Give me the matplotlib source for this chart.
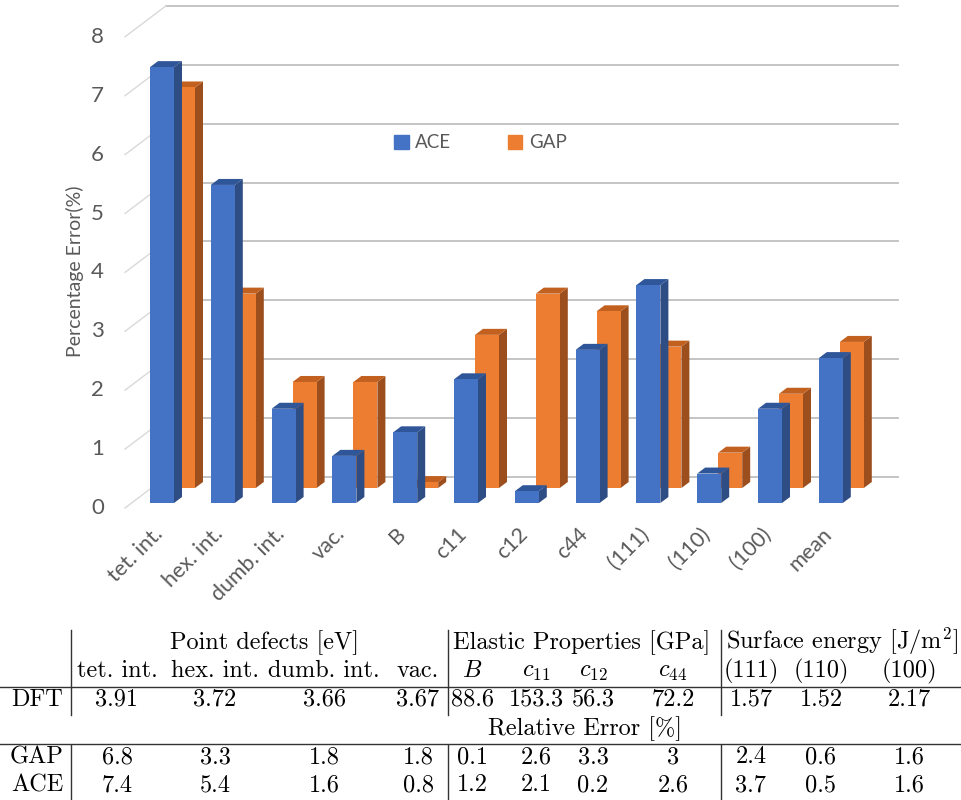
import matplotlib.pyplot as plt
import numpy as np
from matplotlib.patches import Polygon, Patch

## DATA
categories = ["tet. int.", "hex. int.", "dumb. int.", "vac.", "B", "c11", "c12",
              "c44", "(111)", "(110)", "(100)", "mean"]
ace = [7.4, 5.4, 1.6, 0.8, 1.2, 2.1, 0.2, 2.6, 3.7, 0.5, 1.6, 2.46]
gap = [6.8, 3.3, 1.8, 1.8, 0.1, 2.6, 3.3, 3.0, 2.4, 0.6, 1.6, 2.48]
y_ticks = [0, 1, 2, 3, 4, 5, 6, 7, 8]

table_groups = ["Point defects [eV]", "Elastic Properties [GPa]", "Surface energy [J/m$^2$]"]
table_cols = ["tet. int.", "hex. int.", "dumb. int.", "vac.", "$B$", "$c_{11}$", "$c_{12}$",
              "$c_{44}$", "(111)", "(110)", "(100)"]
dft = [3.91, 3.72, 3.66, 3.67, 88.6, 153.3, 56.3, 72.2, 1.57, 1.52, 2.17]
gap_err = gap[:11]
ace_err = ace[:11]

## LAYOUT (pixels of the 961x800 picture)
PX_CAT = 60.8      # px per category
PX_VAL = 58.9      # px per percent
X0_PX = 162        # centre of first ACE bar
Y0_PX = 503        # ACE floor
BAR_W = 24 / PX_CAT
DEPTH_X, DEPTH_Y = 8 / PX_CAT, 6 / PX_VAL          # bar depth
ROW_X, ROW_Y = 21 / PX_CAT, 15 / PX_VAL            # GAP row behind ACE row
BACK_Y = 26 / PX_VAL
FRONT_Y = -5 / PX_VAL
WALL_L = (166 - X0_PX) / PX_CAT
WALL_R = (898 - X0_PX) / PX_CAT
FRONT_L = (125 - X0_PX) / PX_CAT

ACE_C = ("#4472C4", "#2E4D85", "#30569A")   # front, side, top
GAP_C = ("#ED7D31", "#9C4F1D", "#C2601F")
TXT = "#595959"

plt.rcParams['mathtext.fontset'] = 'cm'
fig = plt.figure(figsize=(9.61, 8), dpi=100)
ax = fig.add_axes([0, 0.25, 1, 0.75])
ax.set_xlim((0 - X0_PX) / PX_CAT, (961 - X0_PX) / PX_CAT)
ax.set_ylim((Y0_PX - 600) / PX_VAL, Y0_PX / PX_VAL)
ax.axis("off")

# walls
for v in y_ticks:
    ax.plot([WALL_L, WALL_R], [v + BACK_Y, v + BACK_Y], color="#BFBFBF", lw=1.3, zorder=1)
    ax.plot([FRONT_L, WALL_L], [v + FRONT_Y, v + BACK_Y], color="#D9D9D9", lw=1.0, zorder=1)
    ax.text((104 - X0_PX) / PX_CAT, v + FRONT_Y, str(v), ha="right", va="center",
            fontsize=16, color=TXT, family="Lato")


def draw_row(xs, vals, base, cols, z):
    ax.bar(xs, vals, width=BAR_W, bottom=base, color=cols[0], zorder=z + 0.2)
    for x, v in zip(xs, vals):
        x0, x1 = x - BAR_W / 2, x + BAR_W / 2
        y0, y1 = base, base + v
        side = [(x1, y0), (x1 + DEPTH_X, y0 + DEPTH_Y), (x1 + DEPTH_X, y1 + DEPTH_Y), (x1, y1)]
        top = [(x0, y1), (x1, y1), (x1 + DEPTH_X, y1 + DEPTH_Y), (x0 + DEPTH_X, y1 + DEPTH_Y)]
        ax.add_patch(Polygon(side, closed=True, color=cols[1], lw=0, zorder=z))
        ax.add_patch(Polygon(top, closed=True, color=cols[2], lw=0, zorder=z))


idx = np.arange(len(categories))
draw_row(idx + ROW_X, gap, ROW_Y, GAP_C, 2)
draw_row(idx, ace, 0, ACE_C, 3)

for i, c in enumerate(categories):
    ax.text(i - 0.04, -0.47, c, rotation=45, rotation_mode="anchor", ha="right",
            va="center", fontsize=15.5, color=TXT, family="Lato")

ax.text((75 - X0_PX) / PX_CAT, (Y0_PX - 271) / PX_VAL, "Percentage Error(%)", rotation=90,
        ha="center", va="center", fontsize=14, color=TXT, family="Lato")

handles = [Patch(color=ACE_C[0], label="ACE"), Patch(color=GAP_C[0], label="GAP")]
leg = ax.legend(handles=handles, loc="center", bbox_to_anchor=(480.5 / 961, 1 - 143 / 800),
                bbox_transform=fig.transFigure, ncol=2, frameon=False,
                handlelength=0.78, handleheight=0.78, handletextpad=0.35, columnspacing=3.0,
                prop={"family": "Lato", "size": 13.5})
for t in leg.get_texts():
    t.set_color(TXT)

## TABLE
tb = fig.add_axes([0, 0, 1, 0.25])
tb.set_xlim(0, 961)
tb.set_ylim(800, 600)
tb.axis("off")

col_x = [117, 215, 324, 418, 472, 536, 593, 673, 751, 821, 909]
group_x = [264, 582, 842]
row_base = [649, 677, 706, 735, 763, 791]
fs = 17.5
tk = dict(ha="center", va="baseline", fontsize=fs, family="cmr10", color="black")

for g, x in zip(table_groups, group_x):
    tb.text(x, row_base[0], g, **tk)
for c, x in zip(table_cols, col_x):
    tb.text(x, row_base[1], c, **tk)
tb.text(37, row_base[2], "DFT", **tk)
for v, x in zip(dft, col_x):
    tb.text(x, row_base[2], f"{v:g}", **tk)
tb.text(585, row_base[3], "Relative Error [%]", **tk)
tb.text(37, row_base[4], "GAP", **tk)
tb.text(37, row_base[5], "ACE", **tk)
for v, x in zip(gap_err, col_x):
    tb.text(x, row_base[4], f"{v:g}", **tk)
for v, x in zip(ace_err, col_x):
    tb.text(x, row_base[5], f"{v:g}", **tk)

for y in [687, 744]:
    tb.plot([0, 961], [y, y], color="#333333", lw=1.0)
for x in [71, 448, 721]:
    tb.plot([x, x], [630, 715], color="#333333", lw=1.0)
    tb.plot([x, x], [745, 800], color="#333333", lw=1.0)

fig.savefig("out.png", dpi=100)
